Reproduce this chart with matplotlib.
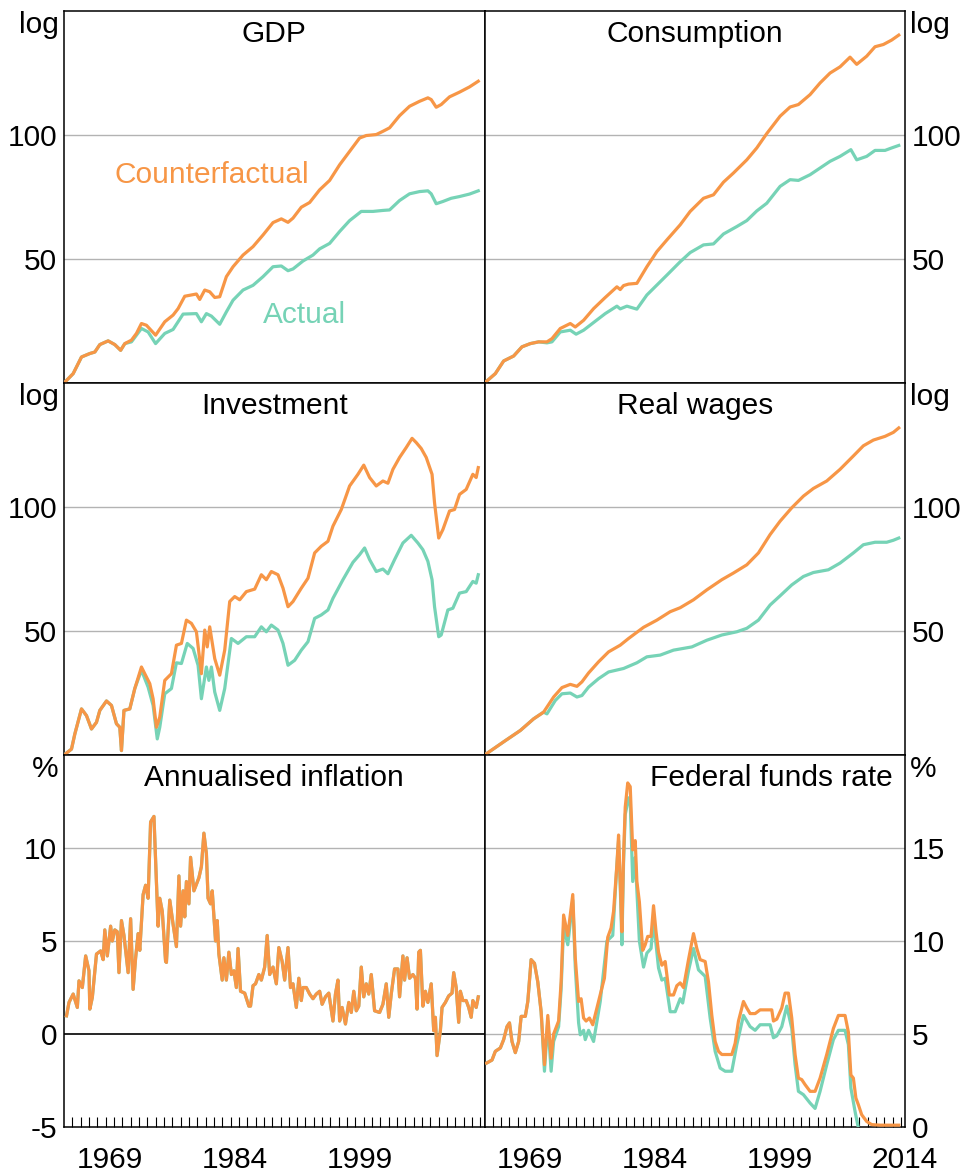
import matplotlib
matplotlib.use("Agg")
import matplotlib.pyplot as plt

plt.rcParams["font.family"] = ["Liberation Sans", "DejaVu Sans"]
plt.rcParams["axes.unicode_minus"] = False

ORANGE = "#F79646"
TEAL = "#76D3B6"

# ---- GDP (log index) ----
gdp_cf_years = [1964.0, 1965.1, 1966.1, 1967.1, 1967.7, 1968.3, 1969.3, 1970.1, 1970.8, 1971.3,
                1972.1, 1972.7, 1973.3, 1973.9, 1975.0, 1976.1, 1977.1, 1977.7, 1978.5, 1979.9,
                1980.3, 1980.9, 1981.5, 1982.1, 1982.7, 1983.5, 1984.3, 1985.5, 1986.7, 1987.9,
                1989.1, 1990.1, 1990.9, 1991.5, 1992.5, 1993.5, 1994.7, 1995.9, 1997.1, 1998.3,
                1999.5, 2000.3, 2001.5, 2002.3, 2003.1, 2004.3, 2005.5, 2006.7, 2007.7, 2008.1,
                2008.7, 2009.3, 2010.3, 2011.5, 2012.7, 2013.75]
gdp_cf = [0, 3.8, 10.5, 11.9, 12.5, 15.5, 17.0, 15.5, 13.2, 15.9,
          17.3, 20.0, 24.0, 23.3, 19.3, 24.7, 27.4, 30.0, 35.0, 35.9,
          33.7, 37.5, 36.8, 34.5, 34.8, 42.9, 46.9, 51.6, 55.0, 59.7,
          64.7, 66.2, 64.8, 66.5, 70.9, 72.8, 77.9, 81.7, 88.0, 93.4,
          98.8, 99.8, 100.2, 101.5, 102.9, 107.8, 111.6, 113.6, 115.0, 114.3,
          111.2, 112.3, 115.4, 117.3, 119.4, 121.7]
gdp_act_years = [1964.0, 1965.1, 1966.1, 1967.1, 1967.7, 1968.3, 1969.3, 1970.1, 1970.8, 1971.3,
                 1972.1, 1973.3, 1974.1, 1975.0, 1976.1, 1977.1, 1978.3, 1979.9, 1980.5, 1981.1,
                 1981.7, 1982.7, 1983.5, 1984.3, 1985.5, 1986.7, 1987.9, 1989.1, 1990.1, 1990.9,
                 1991.5, 1992.7, 1993.9, 1994.7, 1995.9, 1997.1, 1998.3, 1999.7, 2001.1, 2002.3,
                 2003.1, 2004.3, 2005.5, 2006.7, 2007.7, 2008.1, 2008.7, 2009.5, 2010.5, 2011.5,
                 2012.7, 2013.75]
gdp_act = [0, 3.8, 10.5, 11.9, 12.5, 15.5, 17.0, 15.5, 13.2, 15.9,
           16.6, 22.0, 20.6, 15.9, 20.0, 21.6, 27.8, 28.0, 24.7, 28.0,
           27.0, 23.7, 28.7, 33.4, 37.5, 39.4, 42.9, 46.9, 47.2, 45.3,
           46.0, 49.2, 51.6, 54.1, 56.3, 61.1, 65.5, 69.2, 69.2, 69.6,
           69.8, 73.6, 76.3, 77.2, 77.5, 76.3, 72.3, 73.2, 74.5, 75.2,
           76.2, 77.5]

# ---- Consumption (log index) ----
cons_cf_years = [1964.0, 1965.3, 1966.3, 1967.5, 1968.5, 1969.5, 1970.5, 1971.5, 1972.1, 1973.1,
                 1974.3, 1974.9, 1975.9, 1977.1, 1978.5, 1979.9, 1980.3, 1980.7, 1981.3, 1982.3,
                 1983.5, 1984.7, 1985.9, 1987.5, 1988.7, 1990.3, 1991.5, 1992.7, 1993.9, 1995.5,
                 1996.7, 1997.9, 1999.5, 2000.7, 2001.7, 2003.1, 2004.3, 2005.5, 2006.7, 2007.9,
                 2008.7, 2009.9, 2010.9, 2011.9, 2012.9, 2013.75]
cons_cf = [0, 3.8, 8.9, 10.9, 14.6, 15.9, 16.6, 16.6, 17.9, 22.0,
           24.0, 22.6, 25.3, 30.0, 34.5, 38.8, 37.7, 39.3, 39.9, 40.2,
           46.9, 53.0, 57.7, 63.8, 69.2, 74.5, 75.9, 81.0, 84.7, 90.0,
           94.8, 100.6, 107.6, 111.3, 112.3, 116.3, 121.0, 125.0, 127.5, 131.4,
           128.5, 131.8, 135.6, 136.5, 138.3, 140.3]
cons_act_years = [1964.0, 1965.3, 1966.3, 1967.5, 1968.5, 1969.5, 1970.5, 1971.5, 1972.1, 1973.1,
                  1974.3, 1975.0, 1975.9, 1977.1, 1978.5, 1979.9, 1980.3, 1981.1, 1982.3, 1983.5,
                  1984.7, 1985.9, 1987.5, 1988.7, 1990.3, 1991.5, 1992.7, 1994.3, 1995.5, 1996.7,
                  1997.9, 1999.5, 2000.7, 2001.7, 2003.1, 2004.3, 2005.5, 2006.7, 2008.0, 2008.7,
                  2009.9, 2010.9, 2012.1, 2012.9, 2013.75]
cons_act = [0, 3.8, 8.9, 10.9, 14.6, 15.9, 16.6, 16.2, 16.6, 20.6,
            21.3, 19.7, 21.3, 24.4, 28.0, 31.0, 29.9, 31.0, 29.8, 35.5,
            39.5, 43.5, 48.9, 52.6, 55.7, 56.1, 60.1, 63.1, 65.5, 69.4,
            72.5, 79.3, 82.0, 81.7, 84.0, 86.7, 89.4, 91.4, 94.1, 90.0,
            91.4, 93.8, 93.8, 94.8, 95.8]

# ---- Investment (log index) ----
inv_cf_years = [1964.0, 1964.9, 1965.3, 1966.1, 1966.7, 1967.3, 1967.9, 1968.3, 1969.1, 1969.7,
                1970.3, 1970.7, 1970.9, 1971.2, 1971.9, 1972.5, 1973.3, 1973.7, 1974.3, 1974.7,
                1975.1, 1975.5, 1976.1, 1976.9, 1977.5, 1978.1, 1978.7, 1979.3, 1979.9, 1980.5,
                1980.9, 1981.2, 1981.5, 1982.1, 1982.7, 1983.3, 1983.9, 1984.5, 1985.1, 1985.9,
                1986.9, 1987.7, 1988.3, 1988.9, 1989.7, 1990.3, 1990.9, 1991.5, 1992.5, 1993.3,
                1994.1, 1994.9, 1995.7, 1996.3, 1997.3, 1998.3, 1999.3, 2000.0, 2000.7, 2001.5,
                2002.3, 2002.9, 2003.5, 2004.3, 2005.1, 2005.8, 2006.3, 2006.9, 2007.5, 2008.2,
                2008.5, 2009.0, 2009.5, 2010.3, 2010.9, 2011.5, 2012.3, 2013.1, 2013.5, 2013.75]
inv_cf = [0, 2.4, 8.5, 18.6, 15.9, 10.5, 13.2, 18.0, 21.8, 20.0,
          12.6, 11.2, 1.8, 18.0, 18.6, 26.8, 35.5, 32.8, 28.8, 22.7,
          11.2, 15.3, 30.1, 32.8, 44.3, 45.0, 54.4, 53.1, 49.7, 32.8,
          50.4, 43.6, 51.7, 38.9, 32.2, 42.3, 61.9, 63.9, 62.6, 65.9,
          66.9, 72.7, 70.7, 74.0, 72.7, 67.3, 59.8, 61.9, 67.3, 71.3,
          81.5, 84.2, 86.2, 92.3, 99.0, 108.5, 113.2, 116.9, 111.9, 108.5,
          110.5, 109.6, 115.2, 120.0, 124.0, 127.7, 126.0, 123.6, 120.0, 113.2,
          101.7, 87.5, 90.9, 98.4, 99.0, 105.1, 107.1, 113.2, 111.9, 115.9]
inv_act_years = [1964.0, 1964.9, 1965.3, 1966.1, 1966.7, 1967.3, 1967.9, 1968.3, 1969.1, 1969.7,
                 1970.3, 1970.7, 1970.9, 1971.2, 1971.9, 1972.5, 1973.3, 1974.1, 1974.7, 1975.2,
                 1975.5, 1976.1, 1976.9, 1977.5, 1978.1, 1978.8, 1979.5, 1980.1, 1980.5, 1981.1,
                 1981.4, 1981.7, 1982.1, 1982.7, 1983.3, 1984.1, 1984.9, 1985.9, 1986.9, 1987.7,
                 1988.3, 1988.9, 1989.7, 1990.3, 1990.9, 1991.7, 1992.5, 1993.3, 1994.1, 1994.9,
                 1995.7, 1996.3, 1997.5, 1998.7, 1999.5, 2000.1, 2000.7, 2001.5, 2002.3, 2002.9,
                 2003.7, 2004.7, 2005.7, 2006.5, 2007.1, 2007.7, 2008.2, 2008.5, 2009.0, 2009.3,
                 2010.1, 2010.7, 2011.5, 2012.3, 2013.1, 2013.5, 2013.75]
inv_act = [0, 2.4, 8.5, 18.6, 15.9, 10.5, 13.2, 18.0, 21.8, 20.0,
           12.6, 11.2, 1.8, 18.0, 18.6, 26.8, 34.2, 27.4, 20.0, 6.5,
           11.2, 24.7, 26.8, 37.2, 36.9, 45.0, 43.0, 36.2, 22.7, 35.5,
           30.1, 35.5, 25.4, 18.0, 26.8, 47.0, 45.0, 47.7, 47.7, 51.7,
           49.7, 52.4, 50.4, 45.0, 36.2, 38.2, 42.3, 45.7, 55.1, 56.5,
           58.5, 63.2, 70.7, 77.7, 80.8, 83.5, 78.8, 74.0, 75.0, 73.1,
           78.8, 85.5, 88.6, 85.5, 82.8, 78.1, 70.7, 59.8, 47.7, 48.4,
           58.5, 59.2, 65.3, 65.9, 70.0, 69.3, 72.7]

# ---- Real wages (log index) ----
wage_cf_years = [1964.0, 1966.5, 1968.3, 1969.9, 1971.1, 1972.3, 1973.3, 1974.3, 1975.1, 1975.7,
                 1976.5, 1977.7, 1978.9, 1980.3, 1981.3, 1983.1, 1984.7, 1986.3, 1987.5, 1989.1,
                 1990.7, 1992.5, 1993.9, 1995.5, 1996.9, 1998.3, 1999.5, 2000.9, 2002.3, 2003.5,
                 2005.1, 2006.7, 2008.3, 2009.5, 2010.7, 2012.1, 2013.1, 2013.75]
wage_cf = [0, 5.8, 9.9, 14.6, 17.3, 23.4, 27.2, 28.5, 27.7, 29.5,
           33.1, 37.6, 41.6, 44.3, 47.0, 51.5, 54.4, 57.8, 59.4, 62.6,
           66.6, 70.7, 73.4, 76.7, 81.5, 88.9, 94.3, 99.7, 104.4, 107.5,
           110.5, 115.2, 120.6, 124.7, 127.0, 128.5, 130.1, 131.9]
wage_act_years = [1964.0, 1966.5, 1968.3, 1969.9, 1971.1, 1971.5, 1972.5, 1973.3, 1974.3, 1975.1,
                  1975.7, 1976.5, 1977.7, 1978.9, 1980.7, 1982.3, 1983.5, 1985.1, 1986.7, 1988.9,
                  1990.7, 1992.5, 1994.3, 1995.5, 1996.9, 1998.3, 1999.5, 2000.9, 2002.3, 2003.5,
                  2005.3, 2006.7, 2008.3, 2009.5, 2010.9, 2012.3, 2013.1, 2013.75]
wage_act = [0, 5.8, 9.9, 14.6, 17.3, 16.6, 22.0, 24.7, 25.0, 23.4,
            24.0, 27.4, 30.8, 33.5, 34.9, 37.2, 39.6, 40.3, 42.3, 43.6,
            46.3, 48.4, 49.7, 51.1, 54.4, 60.5, 64.2, 68.6, 72.0, 73.6,
            74.7, 77.4, 81.5, 84.8, 85.8, 85.8, 86.6, 87.5]

# ---- Annualised inflation (%) ----
infl_years = [1964.3, 1964.6, 1965.1, 1965.6, 1965.8, 1966.2, 1966.6, 1967.0, 1967.1, 1967.4,
              1967.9, 1968.4, 1968.7, 1968.9, 1969.2, 1969.6, 1969.8, 1970.1, 1970.4, 1970.6,
              1970.9, 1971.2, 1971.7, 1972.0, 1972.3, 1972.6, 1972.9, 1973.1, 1973.5, 1973.8,
              1974.1, 1974.4, 1974.8, 1975.3, 1975.5, 1975.8, 1976.2, 1976.3, 1976.7, 1977.1,
              1977.5, 1977.8, 1978.0, 1978.3, 1978.5, 1978.7, 1979.0, 1979.2, 1979.6, 1980.2,
              1980.5, 1980.8, 1981.1, 1981.3, 1981.6, 1981.8, 1982.2, 1982.4, 1982.6, 1983.0,
              1983.2, 1983.5, 1983.8, 1984.1, 1984.4, 1984.7, 1984.9, 1985.2, 1985.7, 1986.2,
              1986.4, 1986.7, 1987.0, 1987.4, 1987.7, 1988.1, 1988.4, 1988.7, 1989.1, 1989.5,
              1989.8, 1990.2, 1990.5, 1990.9, 1991.2, 1991.5, 1991.9, 1992.2, 1992.5, 1992.7,
              1993.1, 1993.5, 1993.9, 1994.3, 1994.7, 1995.0, 1995.4, 1995.8, 1996.3, 1996.6,
              1996.9, 1997.1, 1997.4, 1997.8, 1998.2, 1998.5, 1998.8, 1999.1, 1999.4, 1999.7,
              2000.0, 2000.3, 2000.6, 2000.9, 2001.3, 2001.9, 2002.3, 2002.7, 2003.0, 2003.3,
              2003.7, 2004.1, 2004.3, 2004.7, 2004.9, 2005.2, 2005.5, 2005.9, 2006.2, 2006.4,
              2006.6, 2006.8, 2007.1, 2007.4, 2007.7, 2008.1, 2008.4, 2008.6, 2008.8, 2009.2,
              2009.4, 2009.8, 2010.2, 2010.6, 2010.8, 2011.1, 2011.4, 2011.6, 2011.9, 2012.3,
              2012.6, 2012.9, 2013.1, 2013.5, 2013.75]
infl_cf = [0.98, 1.7, 2.15, 1.43, 2.86, 2.5, 4.2, 3.4, 1.34, 1.97,
           4.3, 4.47, 4.0, 5.6, 4.2, 5.8, 5.0, 5.6, 5.5, 3.3,
           6.1, 5.3, 3.3, 6.2, 2.4, 4.1, 5.4, 4.5, 7.5, 8.0,
           7.3, 11.4, 11.7, 5.8, 7.3, 6.6, 3.9, 3.85, 7.2, 5.9,
           4.7, 8.5, 5.8, 7.7, 6.3, 8.2, 7.0, 9.5, 7.7, 8.4,
           9.0, 10.8, 9.7, 7.3, 7.0, 7.7, 5.0, 6.1, 4.3, 2.9,
           4.1, 2.9, 4.4, 3.2, 3.4, 2.5, 4.6, 2.3, 2.2, 1.5,
           1.5, 2.6, 2.7, 3.2, 2.9, 3.6, 5.3, 3.2, 3.6, 2.7,
           4.65, 3.9, 2.9, 4.65, 2.5, 2.7, 1.43, 3.0, 1.8, 2.5,
           2.5, 2.15, 1.9, 2.15, 2.3, 1.6, 2.0, 2.2, 0.7, 2.15,
           2.9, 0.7, 1.43, 0.54, 1.7, 1.16, 2.3, 1.25, 1.5, 3.6,
           2.0, 2.7, 2.15, 3.2, 1.25, 1.16, 1.6, 2.7, 0.9, 2.15,
           3.5, 3.5, 2.0, 4.2, 2.9, 4.1, 3.0, 3.2, 3.0, 1.34,
           4.4, 4.5, 1.5, 2.3, 1.7, 2.7, 0.18, 0.9, -1.16, 0.18,
           1.43, 1.7, 2.05, 2.2, 3.3, 2.5, 0.63, 2.3, 1.8, 1.8,
           1.43, 0.9, 1.8, 1.43, 2.0]
infl_act = list(infl_cf)  # the two series are all but identical in this panel

# ---- Federal funds rate (%) ----
ffr_cf_years = [1964.25, 1964.9, 1965.3, 1965.9, 1966.3, 1966.7, 1967.0, 1967.3, 1967.7, 1968.1,
                1968.4, 1968.9, 1969.2, 1969.6, 1970.0, 1970.4, 1970.8, 1971.2, 1971.6, 1972.0,
                1972.3, 1972.9, 1973.2, 1973.5, 1974.0, 1974.6, 1974.9, 1975.3, 1975.6, 1975.9,
                1976.2, 1976.6, 1977.0, 1977.5, 1978.0, 1978.4, 1978.8, 1979.2, 1979.5, 1979.9,
                1980.1, 1980.3, 1980.5, 1980.7, 1980.9, 1981.2, 1981.5, 1981.8, 1982.1, 1982.3,
                1982.6, 1983.0, 1983.3, 1983.6, 1984.0, 1984.3, 1984.6, 1984.9, 1985.3, 1985.7,
                1986.2, 1986.7, 1987.1, 1987.5, 1987.9, 1988.5, 1989.1, 1989.5, 1989.9, 1990.5,
                1990.9, 1991.3, 1991.7, 1992.1, 1992.5, 1993.1, 1993.7, 1994.1, 1994.5, 1995.1,
                1995.5, 1995.9, 1996.5, 1997.1, 1997.9, 1998.5, 1998.7, 1999.1, 1999.7, 2000.1,
                2000.5, 2000.9, 2001.3, 2001.7, 2002.1, 2002.5, 2003.1, 2003.7, 2004.3, 2005.1,
                2005.9, 2006.5, 2007.3, 2007.7, 2008.0, 2008.3, 2008.6, 2008.9, 2009.3, 2009.9,
                2010.5, 2011.5, 2012.7, 2013.75]
ffr_cf = [3.44, 3.6, 4.07, 4.25, 4.7, 5.4, 5.6, 4.6, 4.0, 4.6,
          5.95, 5.95, 6.75, 9.0, 8.8, 7.8, 6.2, 3.35, 6.0, 3.7,
          5.0, 5.7, 7.8, 11.4, 10.3, 12.5, 9.1, 6.75, 6.9, 5.86,
          5.7, 5.86, 5.5, 6.4, 7.3, 8.0, 10.2, 10.7, 11.6, 14.1,
          15.7, 13.2, 10.5, 14.6, 17.2, 18.5, 18.3, 14.9, 15.4, 13.2,
          12.1, 9.5, 9.8, 10.25, 10.25, 11.9, 10.5, 9.4, 8.7, 8.9,
          7.1, 7.1, 7.6, 7.75, 7.5, 9.0, 10.4, 9.6, 9.0, 8.9,
          7.8, 6.0, 4.6, 4.07, 3.9, 3.9, 3.9, 4.5, 5.7, 6.75,
          6.4, 6.1, 6.1, 6.3, 6.3, 6.3, 5.7, 5.8, 6.4, 7.2,
          7.2, 5.86, 3.9, 2.63, 2.55, 2.28, 1.92, 1.92, 2.63, 3.9,
          5.3, 6.0, 6.0, 5.1, 2.8, 2.63, 1.56, 1.2, 0.66, 0.3,
          0.13, 0.1, 0.1, 0.1]
ffr_act_years = [1964.25, 1964.9, 1965.3, 1965.9, 1966.3, 1966.7, 1967.0, 1967.3, 1967.7, 1968.1,
                 1968.4, 1968.9, 1969.2, 1969.6, 1970.0, 1970.4, 1970.8, 1971.2, 1971.6, 1972.0,
                 1972.3, 1972.9, 1973.2, 1973.5, 1974.0, 1974.6, 1974.9, 1975.3, 1975.5, 1975.9,
                 1976.1, 1976.5, 1977.1, 1977.9, 1978.7, 1979.4, 1979.9, 1980.1, 1980.3, 1980.5,
                 1980.7, 1980.9, 1981.3, 1981.5, 1981.8, 1982.1, 1982.6, 1983.1, 1983.5, 1984.0,
                 1984.3, 1984.9, 1985.3, 1985.7, 1986.3, 1986.9, 1987.5, 1987.8, 1988.5, 1989.1,
                 1989.7, 1990.5, 1991.1, 1991.7, 1992.3, 1992.9, 1993.7, 1994.3, 1995.1, 1995.9,
                 1996.5, 1997.1, 1998.3, 1998.7, 1999.1, 1999.7, 2000.3, 2000.9, 2001.3, 2001.7,
                 2002.3, 2003.1, 2003.7, 2004.3, 2005.1, 2005.9, 2006.5, 2007.3, 2007.7, 2008.0,
                 2008.5, 2009.1, 2009.5, 2013.75]
ffr_act = [3.44, 3.6, 4.07, 4.25, 4.7, 5.4, 5.6, 4.6, 4.0, 4.6,
           5.95, 5.95, 6.75, 9.0, 8.8, 7.8, 6.2, 3.0, 5.7, 3.0,
           4.6, 5.4, 7.4, 10.8, 9.8, 12.2, 8.6, 5.6, 4.96, 5.2,
           4.7, 5.2, 4.6, 6.75, 10.0, 10.3, 14.1, 15.4, 13.0, 9.8,
           14.2, 16.8, 17.7, 17.5, 13.2, 14.5, 10.0, 8.6, 9.35, 9.6,
           11.1, 8.55, 7.9, 8.0, 6.2, 6.2, 6.9, 6.67, 8.4, 9.6,
           8.45, 8.1, 5.86, 4.07, 3.17, 3.0, 3.0, 4.43, 6.0, 5.4,
           5.2, 5.5, 5.5, 4.8, 4.9, 5.4, 6.5, 5.3, 3.35, 1.92,
           1.74, 1.29, 1.0, 1.92, 3.35, 4.7, 5.2, 5.2, 4.43, 2.1,
           0.84, -0.5, -2.0, -2.0]

panels = [
    ("GDP", gdp_act_years, gdp_act, gdp_cf_years, gdp_cf),
    ("Consumption", cons_act_years, cons_act, cons_cf_years, cons_cf),
    ("Investment", inv_act_years, inv_act, inv_cf_years, inv_cf),
    ("Real wages", wage_act_years, wage_act, wage_cf_years, wage_cf),
    ("Annualised inflation", infl_years, infl_act, infl_years, infl_cf),
    ("Federal funds rate", ffr_act_years, ffr_act, ffr_cf_years, ffr_cf),
]

year_labels = [1969, 1984, 1999, 2014]

fig, axes = plt.subplots(3, 2, figsize=(9.64, 11.74), dpi=100)
plt.subplots_adjust(left=0.0664, right=0.9388, top=0.9906, bottom=0.0400,
                    wspace=0, hspace=0)

FS = 21.5
for i, (title, xa, ya, xc, yc) in enumerate(panels):
    ax = axes[i // 2, i % 2]
    row, col = i // 2, i % 2

    if row < 2:
        ax.set_ylim(0, 150)
        yt = [50, 100]
        unit = "log"
    elif col == 0:
        ax.set_ylim(-5, 15)
        yt = [-5, 0, 5, 10]
        unit = "%"
    else:
        ax.set_ylim(0, 20)
        yt = [0, 5, 10, 15]
        unit = "%"
    ax.set_xlim(1964.0, 2014.5)

    for v in yt:
        if row == 2 and col == 0 and v == 0:
            ax.axhline(v, color="black", linewidth=1.2, zorder=1)
        elif v != ax.get_ylim()[0]:
            ax.axhline(v, color="#b3b3b3", linewidth=1.0, zorder=1)

    ax.plot(xa, ya, color=TEAL, linewidth=2.3, zorder=3, clip_on=True)
    ax.plot(xc, yc, color=ORANGE, linewidth=2.3, zorder=4, clip_on=True)

    ax.set_yticks(yt)
    ax.set_yticklabels([str(v) for v in yt])
    if col == 0:
        ax.tick_params(axis="y", left=False, labelleft=True, right=False,
                       labelright=False, length=0, pad=5, labelsize=FS)
        ax.text(-0.012, 1.0, unit, transform=ax.transAxes, ha="right", va="top",
                fontsize=FS)
    else:
        ax.tick_params(axis="y", left=False, labelleft=False, right=False,
                       labelright=True, length=0, pad=5, labelsize=FS)
        ax.text(1.012, 1.0, unit, transform=ax.transAxes, ha="left", va="top",
                fontsize=FS)

    # year ticks only along the bottom row
    ax.set_xticks([y + 0.5 for y in year_labels if col == 1 or y < 2014])
    if row == 2:
        ax.set_xticks(list(range(1965, 2015)), minor=True)
        ax.set_xticklabels([str(y) for y in year_labels if col == 1 or y < 2014])
        ax.tick_params(axis="x", which="major", length=0, pad=14, labelsize=FS)
        ax.tick_params(axis="x", which="minor", direction="in", length=7,
                       width=0.8, color="black")
    else:
        ax.tick_params(axis="x", which="both", length=0, labelbottom=False)

    for s in ax.spines.values():
        s.set_linewidth(1.1)
        s.set_color("black")

    if title == "Federal funds rate":
        ax.text(0.97, 0.975, title, transform=ax.transAxes, ha="right", va="top",
                fontsize=FS)
    else:
        ax.text(0.5, 0.975, title, transform=ax.transAxes, ha="center", va="top",
                fontsize=FS)

axes[0, 0].text(1981.8, 84, "Counterfactual", color=ORANGE, fontsize=FS,
                ha="center", va="center")
axes[0, 0].text(1992.9, 27.4, "Actual", color=TEAL, fontsize=FS,
                ha="center", va="center")

fig.savefig("out.png", dpi=100)
